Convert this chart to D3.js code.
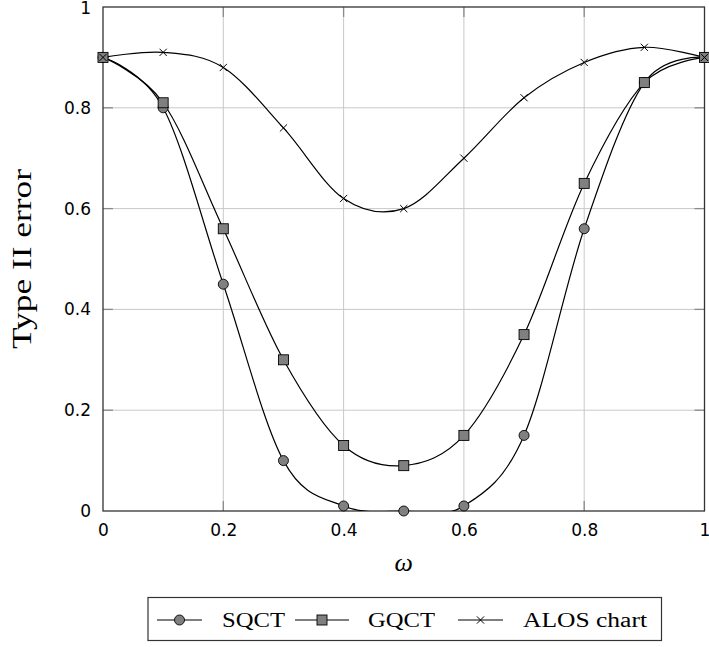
<!DOCTYPE html>
<html><head><meta charset="utf-8">
<script src="https://cdn.jsdelivr.net/npm/d3@7"></script>
<style>body{margin:0;background:#fff}</style>
</head><body>
<script>
const omega = [0, 0.1, 0.2, 0.3, 0.4, 0.5, 0.6, 0.7, 0.8, 0.9, 1.0];
const sqct  = [0.90, 0.80, 0.45, 0.10, 0.01, 0.00, 0.01, 0.15, 0.56, 0.85, 0.90];
const gqct  = [0.90, 0.81, 0.56, 0.30, 0.13, 0.09, 0.15, 0.35, 0.65, 0.85, 0.90];
const alos  = [0.90, 0.91, 0.88, 0.76, 0.62, 0.60, 0.70, 0.82, 0.89, 0.92, 0.90];
const xTicks = [0, 0.2, 0.4, 0.6, 0.8, 1];
const yTicks = [0, 0.2, 0.4, 0.6, 0.8, 1];
const seriesNames = ["SQCT", "GQCT", "ALOS chart"];
const seriesMarks = ["circle", "square", "cross"];

const W = 709, H = 647;
const L = 103, R = 704.5, T = 7, B = 511;
const svg = d3.select("body").append("svg").attr("width", W).attr("height", H);
const x = d3.scaleLinear().domain([0, 1]).range([L, R]);
const y = d3.scaleLinear().domain([0, 1]).range([B, T]);

// grid
const g = svg.append("g");
g.selectAll(".gx").data(xTicks.slice(1, -1)).join("line")
  .attr("x1", d => x(d)).attr("x2", d => x(d)).attr("y1", T).attr("y2", B)
  .attr("stroke", "#c8c8c8").attr("stroke-width", 1);
g.selectAll(".gy").data(yTicks.slice(1, -1)).join("line")
  .attr("y1", d => y(d)).attr("y2", d => y(d)).attr("x1", L).attr("x2", R)
  .attr("stroke", "#c8c8c8").attr("stroke-width", 1);

// ticks (inside, mirrored)
const tl = 10;
const tc = "#8a8a8a";
yTicks.slice(1, -1).forEach(d => {
  g.append("line").attr("x1", L).attr("x2", L + tl).attr("y1", y(d)).attr("y2", y(d)).attr("stroke", tc).attr("stroke-width", 1.3);
  g.append("line").attr("x1", R).attr("x2", R - tl).attr("y1", y(d)).attr("y2", y(d)).attr("stroke", tc).attr("stroke-width", 1.3);
});
xTicks.slice(1, -1).forEach(d => {
  g.append("line").attr("y1", B).attr("y2", B - tl).attr("x1", x(d)).attr("x2", x(d)).attr("stroke", tc).attr("stroke-width", 1.3);
  g.append("line").attr("y1", T).attr("y2", T + tl).attr("x1", x(d)).attr("x2", x(d)).attr("stroke", tc).attr("stroke-width", 1.3);
});

// axes via d3 (labels only)
const fmt = d => d === 0 ? "0" : d === 1 ? "1" : d3.format(".1f")(d);
const xAxis = svg.append("g").attr("transform", `translate(0,${B})`)
  .call(d3.axisBottom(x).tickValues(xTicks).tickFormat(fmt).tickSize(0).tickPadding(13));
const yAxis = svg.append("g").attr("transform", `translate(${L},0)`)
  .call(d3.axisLeft(y).tickValues(yTicks).tickFormat(fmt).tickSize(0).tickPadding(12));
[xAxis, yAxis].forEach(a => {
  a.select(".domain").remove();
  a.selectAll("text").attr("font-family", "DejaVu Sans").attr("font-size", 17).attr("fill", "#000");
});
yAxis.selectAll("text").filter(d => d === 1).attr("dy", "0.4em");

// border
svg.append("rect").attr("x", L).attr("y", T).attr("width", R - L).attr("height", B - T)
  .attr("fill", "none").attr("stroke", "#333").attr("stroke-width", 1.3);

// series
svg.append("clipPath").attr("id", "clip").append("rect")
  .attr("x", L).attr("y", T - 2).attr("width", R - L).attr("height", B - T + 2);
const line = d3.line().x((d, i) => x(omega[i])).y(d => y(d)).curve(d3.curveCardinal.tension(0));
const allSeries = [sqct, gqct, alos];
allSeries.forEach(s => {
  svg.append("path").attr("d", line(s)).attr("fill", "none").attr("stroke", "#000")
    .attr("stroke-width", 1.2).attr("clip-path", "url(#clip)");
});

function drawMark(sel, type, cx, cy) {
  if (type === "circle") {
    sel.append("circle").attr("cx", cx).attr("cy", cy).attr("r", 5)
      .attr("fill", "#808080").attr("stroke", "#000").attr("stroke-width", 0.9);
  } else if (type === "square") {
    sel.append("rect").attr("x", cx - 5).attr("y", cy - 5).attr("width", 10).attr("height", 10)
      .attr("fill", "#808080").attr("stroke", "#000").attr("stroke-width", 0.9);
  } else {
    const s = 3.6;
    sel.append("path").attr("d", `M${cx - s},${cy - s}L${cx + s},${cy + s}M${cx - s},${cy + s}L${cx + s},${cy - s}`)
      .attr("stroke", "#000").attr("stroke-width", 1).attr("fill", "none");
  }
}
allSeries.forEach((s, k) => {
  const mg = svg.append("g");
  s.forEach((v, i) => drawMark(mg, seriesMarks[k], x(omega[i]), y(v)));
});

// axis titles
svg.append("text").attr("x", (L + R) / 2).attr("y", 571).attr("text-anchor", "middle")
  .attr("font-family", "Liberation Serif").attr("font-style", "italic").attr("font-size", 26).text("ω");
svg.append("text").attr("transform", `translate(31,${(T + B) / 2}) rotate(-90)`).attr("text-anchor", "middle")
  .attr("font-family", "Liberation Serif").attr("font-size", 27)
  .attr("textLength", 180).attr("lengthAdjust", "spacingAndGlyphs").text("Type II error");

// legend
const lg = svg.append("g");
lg.append("rect").attr("x", 148).attr("y", 597.5).attr("width", 513.5).attr("height", 43)
  .attr("fill", "#fff").attr("stroke", "#333").attr("stroke-width", 1.2);
const ly = 620;
const legItems = [
  {x1: 157, x2: 202, tx: 222, tw: 63},
  {x1: 295, x2: 349, tx: 368, tw: 67},
  {x1: 458, x2: 503, tx: 523, tw: 124}
];
legItems.forEach((it, k) => {
  lg.append("line").attr("x1", it.x1).attr("x2", it.x2).attr("y1", ly).attr("y2", ly)
    .attr("stroke", "#000").attr("stroke-width", 1.2);
  drawMark(lg, seriesMarks[k], (it.x1 + it.x2) / 2, ly);
  lg.append("text").attr("x", it.tx).attr("y", ly + 7).attr("font-family", "Liberation Serif")
    .attr("font-size", 20).attr("textLength", it.tw).attr("lengthAdjust", "spacingAndGlyphs")
    .text(seriesNames[k]);
});
</script>
</body></html>
